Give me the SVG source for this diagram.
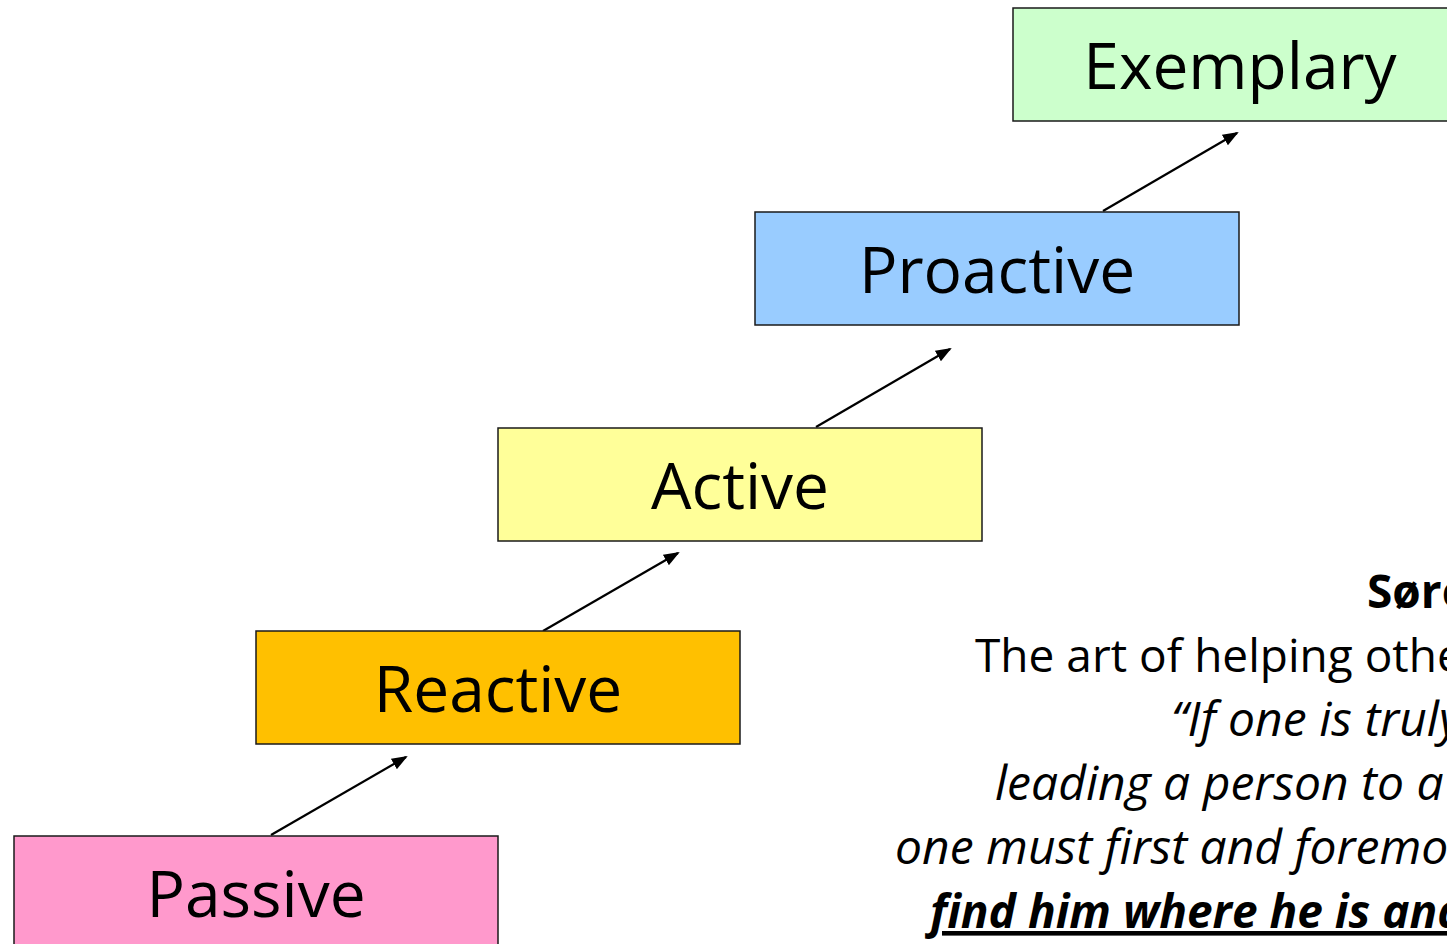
<svg xmlns="http://www.w3.org/2000/svg" width="1447" height="944" viewBox="0 0 1447 944">
<style>
.box{stroke:#1a1a1a;stroke-width:1.5}
.lbl{font-family:"Open Sans",Lato,"Liberation Sans",sans-serif;font-size:64px;fill:#000;text-anchor:middle;font-variant-ligatures:none}
.q{font-family:"Open Sans",Lato,"Liberation Sans",sans-serif;font-size:46px;fill:#000;font-variant-ligatures:none}
.qi{font-style:italic;font-size:48px}
.conn{stroke:#000;stroke-width:2.2;fill:none;marker-end:url(#ah)}
</style>
<defs>
<marker id="ah" markerWidth="16" markerHeight="14" refX="14" refY="6" orient="auto" markerUnits="userSpaceOnUse" viewBox="0 0 16 12">
<path d="M0,0 L16,6 L0,12 z" fill="#000"/>
</marker>
</defs>
<rect width="1447" height="944" fill="#fff"/>
<g id="connectors">
<line class="conn" x1="271" y1="835" x2="406" y2="757"/>
<line class="conn" x1="543" y1="631" x2="678" y2="553"/>
<line class="conn" x1="816" y1="427" x2="950" y2="349"/>
<line class="conn" x1="1103" y1="211" x2="1237" y2="133"/>
</g>
<g id="passive">
<rect class="box" x="14" y="836" width="484" height="113" fill="#FF99CC"/>
<text class="lbl" x="256" y="917">Passive</text>
</g>
<g id="reactive">
<rect class="box" x="256" y="631" width="484" height="113" fill="#FFC000"/>
<text class="lbl" x="498" y="712">Reactive</text>
</g>
<g id="active">
<rect class="box" x="498" y="428" width="484" height="113" fill="#FFFF99"/>
<text class="lbl" x="740" y="509">Active</text>
</g>
<g id="proactive">
<rect class="box" x="755" y="212" width="484" height="113" fill="#99CCFF"/>
<text class="lbl" x="997" y="293">Proactive</text>
</g>
<g id="exemplary">
<rect class="box" x="1013" y="8" width="484" height="113" fill="#CCFFCC"/>
<text class="lbl" x="1240" y="89">Exemplary</text>
</g>
<g id="quote">
<text class="q" x="1367" y="608" font-weight="bold">Søre</text>
<text class="q" x="975" y="672">The art of helping othe</text>
<text class="q qi" x="1171" y="736">“If one is truly</text>
<text class="q qi" x="995" y="800">leading a person to a</text>
<text class="q qi" x="895" y="864">one must first and foremo</text>
<text class="q" x="930" y="928" font-style="italic" font-weight="bold" text-decoration="underline">find him where he is and</text>
</g>
</svg>
